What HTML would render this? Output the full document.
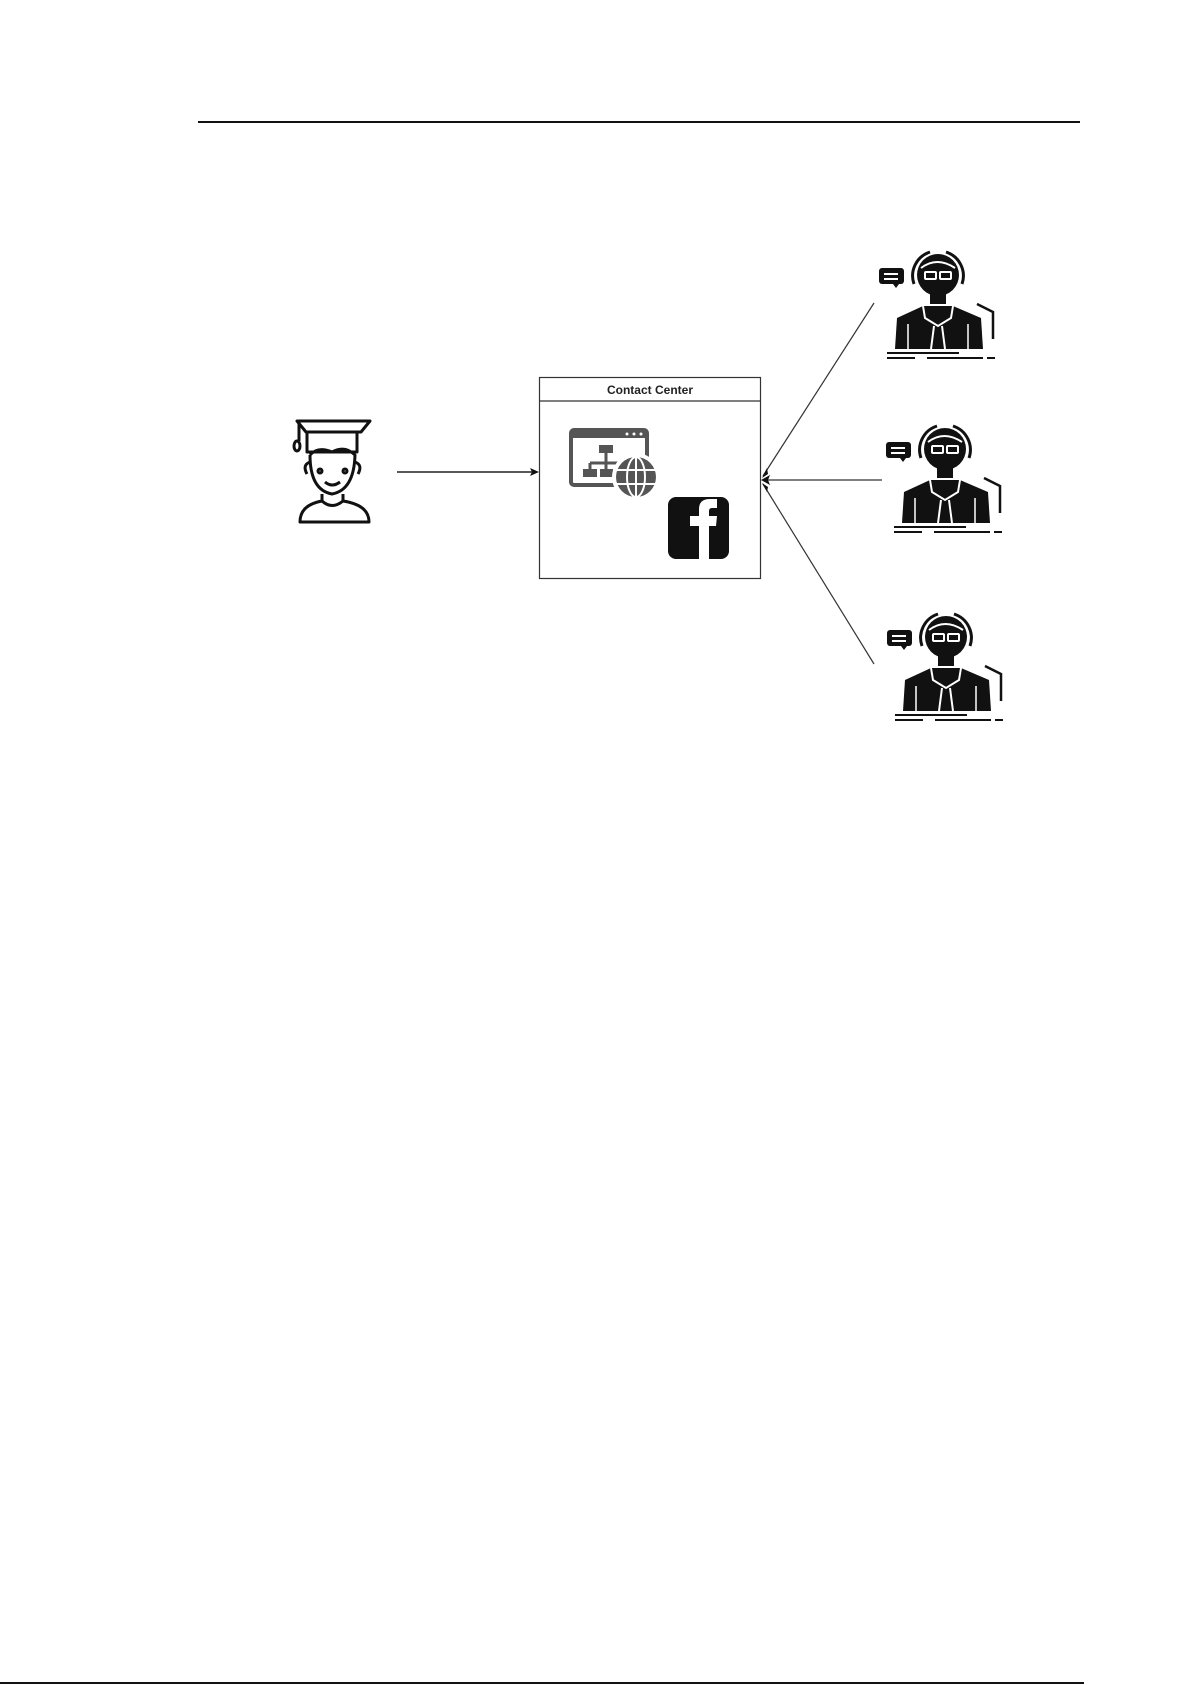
<!DOCTYPE html>
<html><head><meta charset="utf-8"><style>
html,body{margin:0;padding:0;background:#fff;width:1192px;height:1685px;overflow:hidden}
svg{position:absolute;left:0;top:0}
</style></head><body>
<svg width="1192" height="1685" viewBox="0 0 1192 1685" xmlns="http://www.w3.org/2000/svg">
<defs>
<g id="agent">
  <rect x="0" y="14" width="25" height="16" rx="3" fill="#111"/>
  <polygon points="14,30 20,30 17,34" fill="#111"/>
  <rect x="5" y="19" width="14" height="2" fill="#fff"/>
  <rect x="5" y="24" width="14" height="2" fill="#fff"/>
  <path d="M35,30 A25,25 0 0 1 51,-2" stroke="#111" stroke-width="3" fill="none"/>
  <path d="M67,-2 A25,25 0 0 1 83,30" stroke="#111" stroke-width="3" fill="none"/>
  <circle cx="59" cy="21" r="21" fill="#111"/>
  <path d="M42,14 Q58,2 76,14" stroke="#fff" stroke-width="2" fill="none"/>
  <rect x="46" y="18" width="11" height="7" rx="1" fill="none" stroke="#fff" stroke-width="2"/>
  <rect x="61" y="18" width="11" height="7" rx="1" fill="none" stroke="#fff" stroke-width="2"/>
  <rect x="51" y="38" width="16" height="12" fill="#111"/>
  <path d="M18,64 L44,52 L74,52 L102,64 L104,95 L16,95 Z" fill="#111"/>
  <path d="M44,52 L46,64 L59,72 L72,64 L74,52" stroke="#fff" stroke-width="2" fill="none"/>
  <path d="M55,72 L52,95 M63,72 L66,95" stroke="#fff" stroke-width="2"/>
  <path d="M29,70 L29,95 M89,70 L89,95" stroke="#fff" stroke-width="1.5"/>
  <path d="M98,50 L114,58 L114,85" stroke="#111" stroke-width="2.5" fill="none"/>
  <path d="M8,99 L80,99 M8,104 L36,104 M48,104 L104,104 M108,104 L116,104" stroke="#111" stroke-width="2"/>
</g>
</defs>
<line x1="198" y1="122" x2="1080" y2="122" stroke="#111" stroke-width="2"/>
<line x1="0" y1="1683" x2="1084" y2="1683" stroke="#111" stroke-width="2"/>

<!-- student -->
<g stroke="#111" stroke-width="3" fill="none" stroke-linejoin="round">
  <polygon points="297,421 370,421 361,432 306,432"/>
  <rect x="307" y="432" width="50" height="20"/>
  <path d="M299,422 L299,441"/>
  <ellipse cx="297" cy="446" rx="3" ry="5"/>
  <path d="M310,455 Q310,490 332,494 Q354,490 355,455 Q345,445 332,452 Q318,446 310,455"/>
  <path d="M310,462 Q302,465 307,474 M355,462 Q363,465 358,474"/>
  <circle cx="320" cy="471" r="2"/>
  <circle cx="345" cy="471" r="2"/>
  <path d="M325,482 Q332,488 340,482"/>
  <path d="M322,494 L322,501 Q300,505 300,522 L369,522 Q369,505 343,501 L343,494"/>
  <path d="M322,501 Q332,510 343,501"/>
</g>

<!-- arrow in -->
<line x1="397" y1="472" x2="533" y2="472" stroke="#222" stroke-width="1.5"/>
<polygon points="539,472 530,468 532,472 530,476" fill="#111"/>

<!-- box -->
<rect x="539.5" y="377.5" width="221" height="201" fill="#fff" stroke="#333" stroke-width="1.2"/>
<line x1="539.5" y1="401" x2="760.5" y2="401" stroke="#333" stroke-width="1.2"/>
<text x="650" y="394" text-anchor="middle" font-family="Liberation Sans, sans-serif" font-size="12" font-weight="bold" fill="#222">Contact Center</text>

<!-- sitemap icon -->
<rect x="571" y="430" width="76" height="55" rx="3" fill="none" stroke="#555" stroke-width="4"/>
<rect x="571" y="430" width="76" height="8" fill="#555"/>
<circle cx="627" cy="434" r="1.5" fill="#fff"/><circle cx="634" cy="434" r="1.5" fill="#fff"/><circle cx="641" cy="434" r="1.5" fill="#fff"/>
<rect x="599" y="445" width="14" height="8" fill="#555"/>
<path d="M606,453 L606,463 M590,463 L620,463 M590,463 L590,469 M606,463 L606,469" stroke="#555" stroke-width="3"/>
<rect x="583" y="469" width="14" height="8" fill="#555"/>
<rect x="600" y="469" width="13" height="8" fill="#555"/>
<circle cx="636" cy="477" r="24" fill="#fff"/>
<circle cx="636" cy="477" r="20" fill="#555"/>
<g stroke="#fff" stroke-width="2" fill="none">
  <ellipse cx="636" cy="477" rx="9" ry="20"/>
  <line x1="636" y1="457" x2="636" y2="497"/>
  <line x1="616" y1="470" x2="656" y2="470"/>
  <line x1="616" y1="484" x2="656" y2="484"/>
</g>

<!-- facebook -->
<rect x="668" y="497" width="61" height="62" rx="8" fill="#111"/>
<path d="M699,559 L699,526 L690,526 L690,516 L699,516 L699,509 Q699,499 710,499 L717,499 L717,508 L712,508 Q709,508 709,511 L709,516 L717,516 L716,526 L709,526 L709,559 Z" fill="#fff"/>

<!-- connectors to agents -->
<g stroke="#333" stroke-width="1.2">
  <line x1="763" y1="476" x2="874" y2="303"/>
  <line x1="763" y1="480" x2="882" y2="480"/>
  <line x1="763" y1="484" x2="874" y2="664"/>
</g>
<polygon points="761,480 770,475 768,480 770,485" fill="#111"/>
<polygon points="762,478 767,468 768,474" fill="#111"/>
<polygon points="762,483 768,487 767,492" fill="#111"/>

<use href="#agent" x="879" y="254"/>
<use href="#agent" x="886" y="428"/>
<use href="#agent" x="887" y="616"/>
</svg>
</body></html>
